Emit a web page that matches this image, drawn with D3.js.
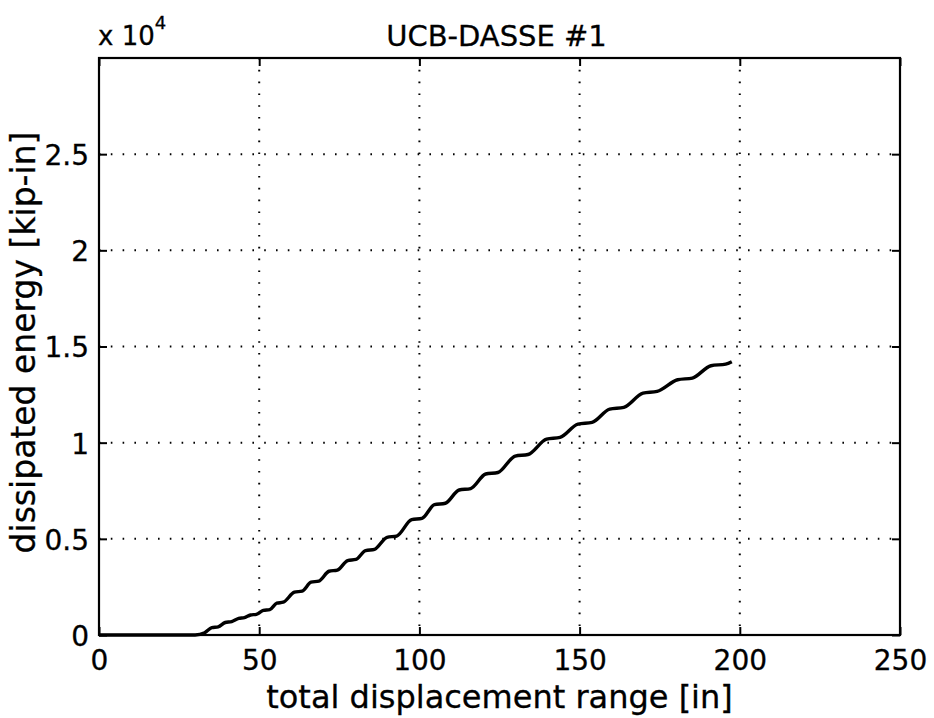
<!DOCTYPE html>
<html>
<head>
<meta charset="utf-8">
<script src="https://cdn.jsdelivr.net/npm/d3@7/dist/d3.min.js"></script>
<style>
  body { margin: 0; background: #fff; }
  text { font-family: "DejaVu Sans", "Liberation Sans", Arial, sans-serif; fill: #000; stroke: #000; stroke-width: 0.3px; }
</style>
</head>
<body>
<div id="chart"></div>
<script>
// total displacement range [in]
const displacement = [0, 30, 33,
    35.2, 37.2, 39.4, 41.4, 43.6, 45.4, 47.3, 49.1, 51.3, 53.3, 55.5, 57.5,
    61.0, 63.4, 66.2, 68.6, 71.8, 74.4, 77.6, 80.2, 83.2, 86.0, 89.9, 92.9,
    97.6, 100.8, 104.7, 108.1, 112.4, 116.0, 120.7, 124.5, 129.9, 133.9,
    139.7, 143.9, 149.5, 153.9, 159.4, 163.8, 169.8, 174.2, 180.6, 185.2,
    191.0, 195.6, 197.5];
// dissipated energy [kip-in]
const energy = [0, 0, 120,
    380, 420, 650, 700, 865, 905, 1040, 1075, 1280, 1320, 1655, 1705,
    2225, 2280, 2745, 2800, 3315, 3375, 3870, 3930, 4390, 4455, 5080, 5145,
    6000, 6065, 6775, 6850, 7540, 7615, 8370, 8450, 9305, 9385,
    10185, 10275, 10965, 11055, 11745, 11835, 12575, 12665, 13270, 13360,
    14000, 14085, 14212];

const xTicks = [0, 50, 100, 150, 200, 250];
const yTicks = [0, 5000, 10000, 15000, 20000, 25000];
const xDomain = [0, 250];
const yDomain = [0, 30000];

const W = 934, H = 718;
const margin = { top: 58, right: 34, bottom: 83, left: 99 };
const width = W - margin.left - margin.right,
      height = H - margin.top - margin.bottom;

const svg = d3.select("#chart").append("svg")
    .attr("width", W).attr("height", H);
const g = svg.append("g")
    .attr("transform", `translate(${margin.left},${margin.top})`);

const x = d3.scaleLinear().domain(xDomain).range([0, width]);
const y = d3.scaleLinear().domain(yDomain).range([height, 0]);

// dotted grid
g.selectAll(".vgrid").data(xTicks.slice(1, -1)).enter().append("line")
    .attr("x1", d => x(d)).attr("x2", d => x(d))
    .attr("y1", 0).attr("y2", height)
    .attr("stroke", "#000").attr("stroke-width", 2)
    .attr("stroke-dasharray", "1.6,10.2");
g.selectAll(".hgrid").data(yTicks.slice(1)).enter().append("line")
    .attr("x1", 0).attr("x2", width)
    .attr("y1", d => y(d)).attr("y2", d => y(d))
    .attr("stroke", "#000").attr("stroke-width", 2)
    .attr("stroke-dasharray", "1.6,10.2");

// axes, ticks pointing inward on all four sides
const tickLen = 8;
const axBottom = g.append("g").attr("transform", `translate(0,${height})`)
    .call(d3.axisBottom(x).tickValues(xTicks).tickSize(-tickLen).tickSizeOuter(0).tickPadding(15));
const axTop = g.append("g")
    .call(d3.axisTop(x).tickValues(xTicks).tickSize(-tickLen).tickSizeOuter(0).tickFormat(""));
const axLeft = g.append("g")
    .call(d3.axisLeft(y).tickValues(yTicks).tickSize(-tickLen).tickSizeOuter(0).tickPadding(10)
        .tickFormat(d => d / 1e4));
const axRight = g.append("g").attr("transform", `translate(${width},0)`)
    .call(d3.axisRight(y).tickValues(yTicks).tickSize(-tickLen).tickSizeOuter(0).tickFormat(""));

[axBottom, axTop, axLeft, axRight].forEach(a => {
    a.select(".domain").remove();
    a.selectAll(".tick line").attr("stroke", "#000").attr("stroke-width", 2);
    a.selectAll("text").style("font-size", "28px").attr("fill", "#000");
});
axLeft.selectAll("text").attr("dy", "0.37em");

// frame
g.append("rect")
    .attr("x", 0).attr("y", 0).attr("width", width).attr("height", height)
    .attr("fill", "none").attr("stroke", "#000").attr("stroke-width", 2.2);

// data line
const pts = displacement.map((d, i) => [d, energy[i]]);
g.append("path")
    .datum(pts)
    .attr("fill", "none")
    .attr("stroke", "#000")
    .attr("stroke-width", 3.4)
    .attr("stroke-linejoin", "round")
    .attr("d", d3.line().x(d => x(d[0])).y(d => y(d[1])).curve(d3.curveMonotoneX));

// title and labels
svg.append("text")
    .attr("x", margin.left + width / 2 - 3).attr("y", 46)
    .attr("text-anchor", "middle").style("font-size", "29px")
    .text("UCB-DASSE #1");

svg.append("text")
    .attr("x", margin.left + width / 2).attr("y", 708)
    .attr("text-anchor", "middle").style("font-size", "32px")
    .text("total displacement range [in]");

svg.append("text")
    .attr("transform", `translate(35,${margin.top + height / 2 - 4}) rotate(-90)`)
    .attr("text-anchor", "middle").style("font-size", "33px")
    .text("dissipated energy [kip-in]");

// exponent
const expo = svg.append("text").attr("x", 98).attr("y", 45).style("font-size", "26px");
expo.append("tspan").text("x 10");
expo.append("tspan").attr("dy", -16).style("font-size", "18px").text("4");
</script>
</body>
</html>
